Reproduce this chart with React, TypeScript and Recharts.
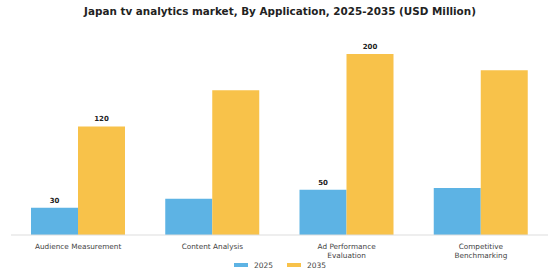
import React from 'react';
import { BarChart, Bar, XAxis, YAxis, LabelList } from 'recharts';

const categories = [
    'Audience Measurement',
    'Content Analysis',
    'Ad Performance\nEvaluation',
    'Competitive\nBenchmarking',
];
const values2025 = [30, 40, 50, 52];
const values2035 = [120, 160, 200, 182];
// only these bars carry a value label in the reference
const labelled = [0, 2];

const BLUE = '#5DB3E4';
const YELLOW = '#F8C24A';
const FONT = '"DejaVu Sans", Verdana, sans-serif';

const data = categories.map((name, i) => ({
    name,
    y2025: values2025[i],
    y2035: values2035[i],
}));

const CategoryTick = (props: any) => {
    const { x, y, payload } = props;
    const lines: string[] = String(payload.value).split('\n');
    return (
        <text x={x} y={y + 6} textAnchor="middle" fontSize={7.3} fill="#444" fontFamily={FONT}>
            {lines.map((line, i) => (
                <tspan key={i} x={x} dy={i === 0 ? 0 : 8.7}>
                    {line}
                </tspan>
            ))}
        </text>
    );
};

const ValueLabel = (props: any) => {
    const { x, y, width, value, index } = props;
    if (!labelled.includes(index)) return null;
    return (
        <text x={x + width / 2} y={y - 5} textAnchor="middle" fontSize={7} fontWeight="bold" fill="#222" fontFamily={FONT}>
            {value}
        </text>
    );
};

const legendItems = [
    { label: '2025', color: BLUE },
    { label: '2035', color: YELLOW },
];

export default function App() {
    return (
        <div style={{ position: 'absolute', left: 0, top: 0, width: 560, height: 280, background: '#fff' }}>
            <div
                style={{
                    position: 'absolute',
                    top: 5,
                    width: 560,
                    textAlign: 'center',
                    fontFamily: FONT,
                    fontWeight: 'bold',
                    fontSize: 10.4,
                    color: '#222',
                }}
            >
                Japan tv analytics market, By Application, 2025-2035 (USD Million)
            </div>
            <BarChart
                width={560}
                height={280}
                data={data}
                margin={{ top: 36, right: 12, bottom: 23, left: 11 }}
                barCategoryGap={20}
                barGap={0}
            >
                <XAxis
                    dataKey="name"
                    interval={0}
                    tickLine={false}
                    axisLine={{ stroke: '#ddd' }}
                    tick={<CategoryTick />}
                    height={22}
                />
                <YAxis hide domain={[0, 220]} />
                <Bar dataKey="y2025" name="2025" fill={BLUE} isAnimationActive={false}>
                    <LabelList dataKey="y2025" content={<ValueLabel />} />
                </Bar>
                <Bar dataKey="y2035" name="2035" fill={YELLOW} isAnimationActive={false}>
                    <LabelList dataKey="y2035" content={<ValueLabel />} />
                </Bar>
            </BarChart>
            <div
                style={{
                    position: 'absolute',
                    top: 259,
                    width: 560,
                    height: 12,
                    display: 'flex',
                    justifyContent: 'center',
                    gap: 14,
                    fontFamily: FONT,
                    fontSize: 7.5,
                    color: '#444',
                }}
            >
                {legendItems.map((item) => (
                    <span key={item.label} style={{ display: 'flex', alignItems: 'center' }}>
                        <span style={{ display: 'inline-block', width: 14, height: 4, background: item.color, marginRight: 6 }} />
                        {item.label}
                    </span>
                ))}
            </div>
        </div>
    );
}
